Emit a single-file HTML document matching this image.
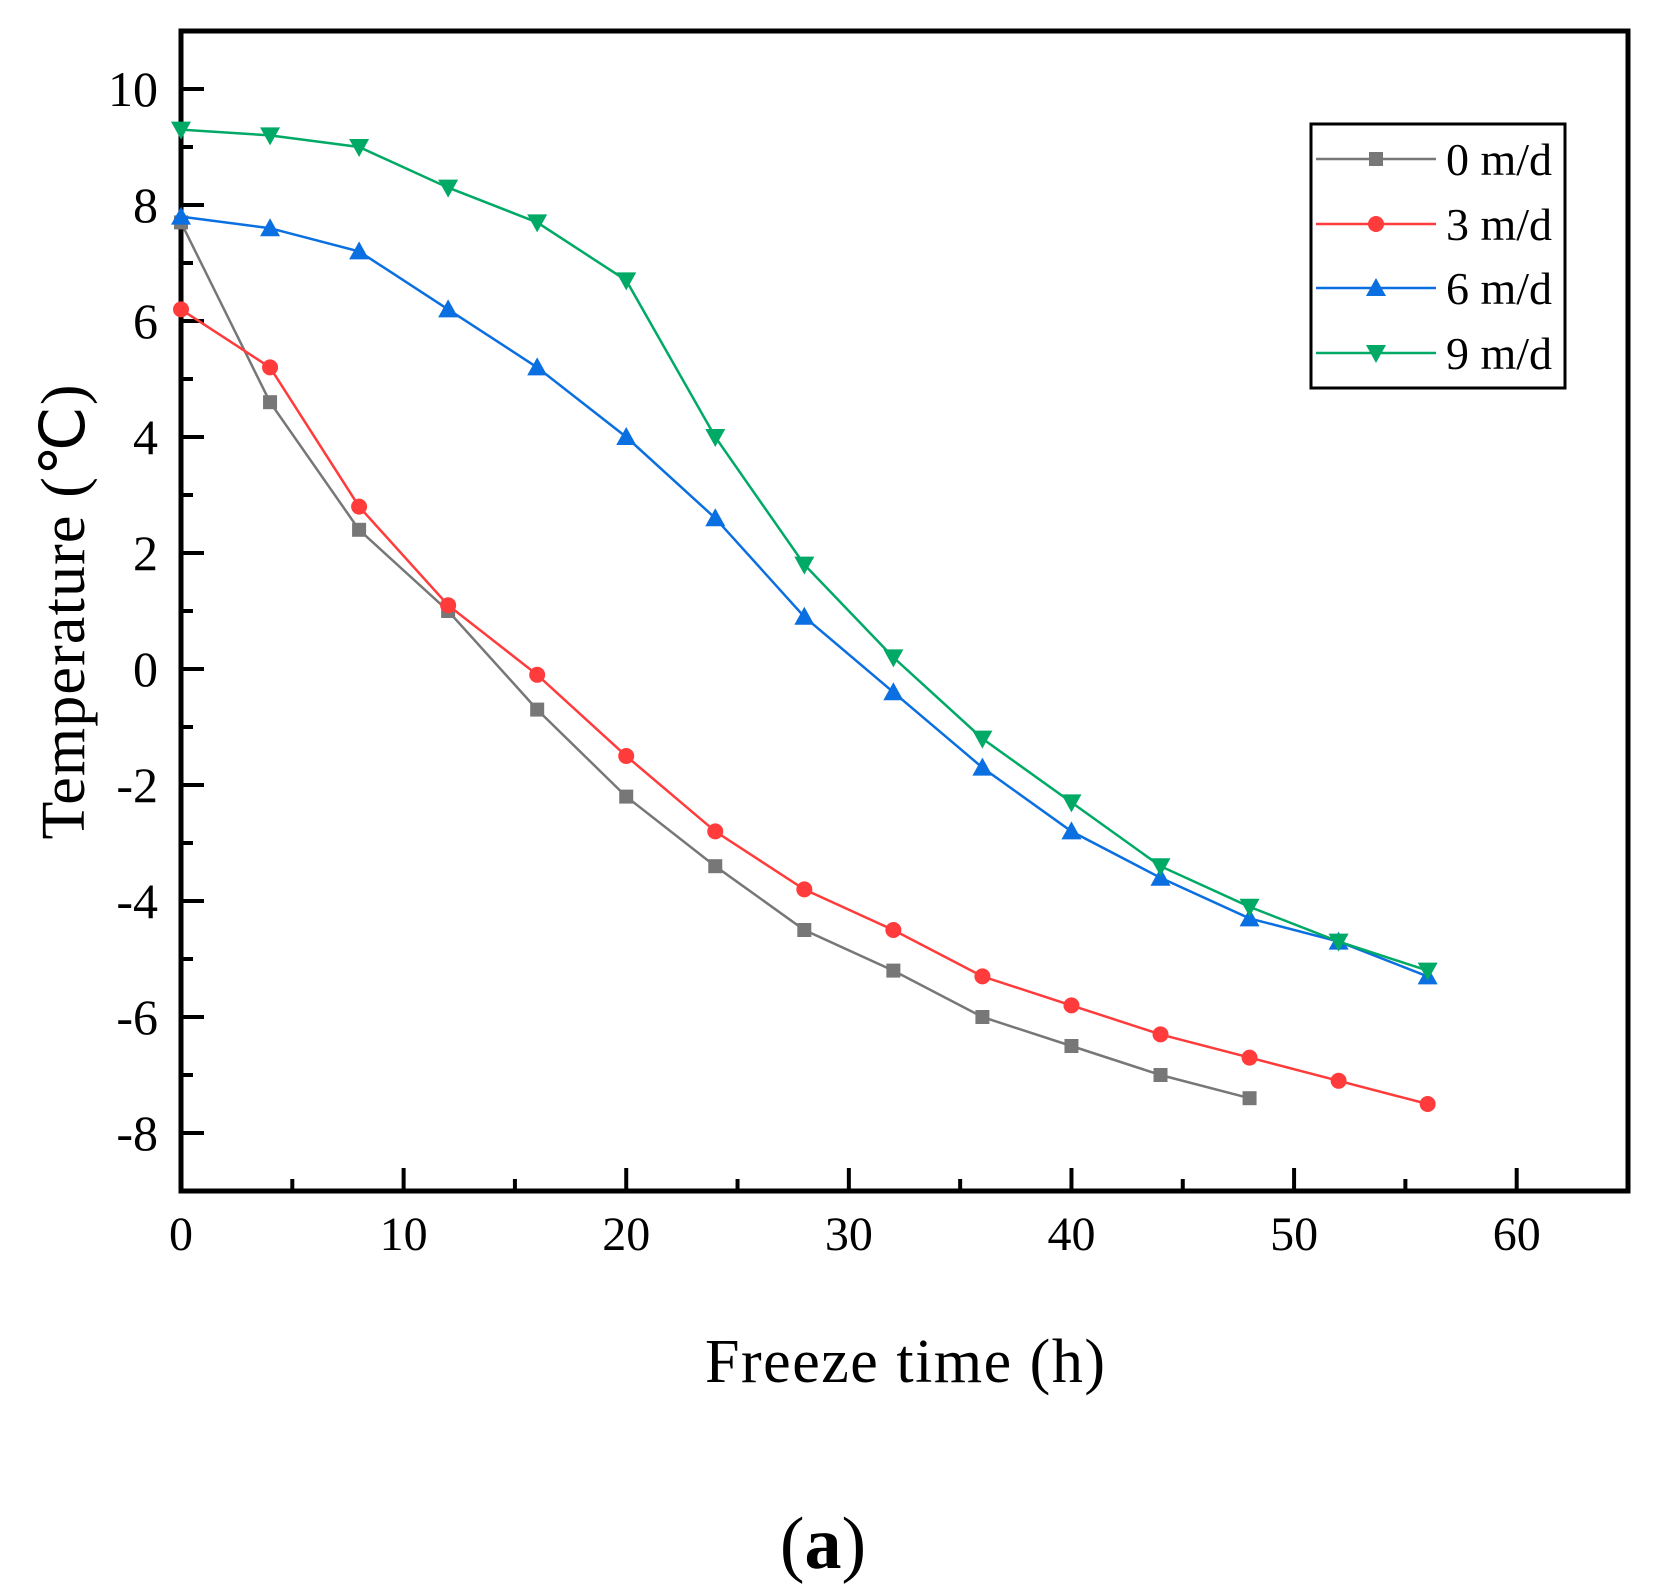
<!DOCTYPE html>
<html><head><meta charset="utf-8"><style>html,body{margin:0;padding:0;background:#fff}svg{display:block}text{font-family:"Liberation Serif",serif;fill:#000}</style></head>
<body>
<svg id="chart" width="1661" height="1591" viewBox="0 0 1661 1591" xmlns="http://www.w3.org/2000/svg"></svg>
<script>
const times0 = [0,4,8,12,16,20,24,28,32,36,40,44,48];
const times = [0,4,8,12,16,20,24,28,32,36,40,44,48,52,56];
const s0 = [7.7,4.6,2.4,1.0,-0.7,-2.2,-3.4,-4.5,-5.2,-6.0,-6.5,-7.0,-7.4];
const s3 = [6.2,5.2,2.8,1.1,-0.1,-1.5,-2.8,-3.8,-4.5,-5.3,-5.8,-6.3,-6.7,-7.1,-7.5];
const s6 = [7.8,7.6,7.2,6.2,5.2,4.0,2.6,0.9,-0.4,-1.7,-2.8,-3.6,-4.3,-4.7,-5.3];
const s9 = [9.3,9.2,9.0,8.3,7.7,6.7,4.0,1.8,0.2,-1.2,-2.3,-3.4,-4.1,-4.7,-5.2];
const xTicks = [0,10,20,30,40,50,60];
const yTicks = [-8,-6,-4,-2,0,2,4,6,8,10];
const seriesNames = ["0 m/d","3 m/d","6 m/d","9 m/d"];

const NS="http://www.w3.org/2000/svg";
const svg=document.getElementById('chart');
const L=181,R=1628,T=31,B=1191,X0=0,X1=65,Y0=-9,Y1=11;
function sx(v){return L+(v-X0)/(X1-X0)*(R-L);}
function sy(v){return B-(v-Y0)/(Y1-Y0)*(B-T);}
function mk(tag,attrs,parent){const e=document.createElementNS(NS,tag);for(const k in attrs)e.setAttribute(k,attrs[k]);(parent||svg).appendChild(e);return e;}

for(let v=-8;v<=10;v++){
  const major=v%2===0;
  const t=mk('line',{x1:L,x2:L+(major?23:12),y1:sy(v),y2:sy(v),stroke:'#000','stroke-width':4});
  
  
}
for(let v=0;v<=60;v+=5){
  const major=v%10===0;
  const t=mk('line',{x1:sx(v),x2:sx(v),y1:B,y2:B-(major?23:12),stroke:'#000','stroke-width':4});
  
  
}
yTicks.forEach(v=>{
  const t=mk('text',{x:158,y:sy(v)+17,'text-anchor':'end','font-size':50});
  t.textContent=String(v);
  
  
});
xTicks.forEach(v=>{
  const t=mk('text',{x:sx(v),y:1250,'text-anchor':'middle','font-size':48});
  t.textContent=String(v);
  
  
});

const fr=mk('rect',{x:L,y:T,width:R-L,height:B-T,fill:'none',stroke:'#000','stroke-width':5});



function marker(type,x,y,color,g){
  let m;
  if(type==='sq') m=mk('rect',{x:x-7,y:y-7,width:14,height:14,fill:color},g);
  else if(type==='ci') m=mk('circle',{cx:x,cy:y,r:8,fill:color},g);
  else if(type==='up') m=mk('polygon',{points:`${x},${y-10} ${x-10},${y+8} ${x+10},${y+8}`,fill:color},g);
  else m=mk('polygon',{points:`${x},${y+10} ${x-10},${y-8} ${x+10},${y-8}`,fill:color},g);
  return m;
}
const defs=[[times0,s0,'#777777','sq','series-0-md'],[times,s3,'#ff3b3b','ci','series-3-md'],[times,s6,'#0a6fe0','up','series-6-md'],[times,s9,'#00aa66','dn','series-9-md']];
defs.forEach(([xs,ys,c,m,n])=>{
  const g=mk('g',{});
  
  
  const pl=mk('polyline',{points:xs.map((x,i)=>sx(x)+','+sy(ys[i])).join(' '),fill:'none',stroke:c,'stroke-width':2.5},g);
  
  
  xs.forEach((x,i)=>{
    const p=marker(m,sx(x),sy(ys[i]),c,g);
    
    
  });
});

const lg=mk('g',{});


const lr=mk('rect',{x:1311,y:124,width:254,height:264,fill:'#fff',stroke:'#000','stroke-width':3},lg);


const ly=[159,224,288,353];
defs.forEach(([xs,ys,c,m,n],i)=>{
  const e=mk('g',{},lg);
  
  
  mk('line',{x1:1316,x2:1436,y1:ly[i],y2:ly[i],stroke:c,'stroke-width':2.5},e);
  marker(m,1376,ly[i],c,e);
  const t=mk('text',{x:1446,y:ly[i]+16,'font-size':46},e);
  t.textContent=seriesNames[i];
});

const xt=mk('text',{x:905,y:1382,'text-anchor':'middle','font-size':62,textLength:400});
xt.textContent='Freeze time (h)';


const yt=mk('text',{x:0,y:0,'text-anchor':'middle','font-size':62,textLength:455,transform:'translate(84,612) rotate(-90)'});
yt.textContent='Temperature (℃)';


const pa=mk('text',{x:823,y:1568,'text-anchor':'middle','font-size':74});
pa.innerHTML='(<tspan font-weight="bold">a</tspan>)';


</script>
</body></html>
